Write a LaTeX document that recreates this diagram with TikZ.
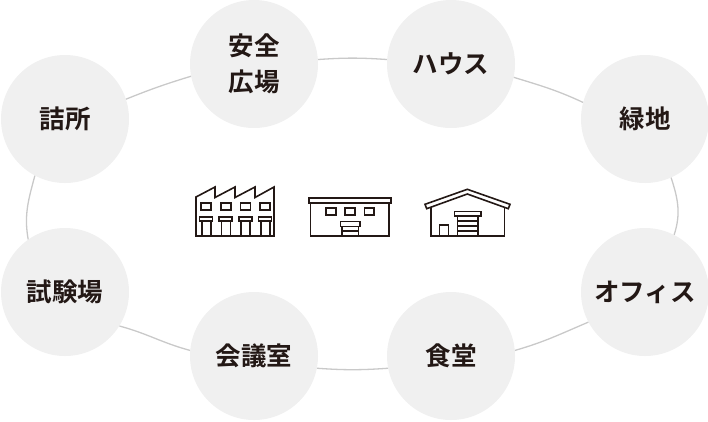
\documentclass[tikz,border=0pt]{standalone}
\usepackage{fontspec}
\setmainfont{Noto Sans CJK JP Bold}
\definecolor{spotfill}{HTML}{F0F0F0}
\definecolor{ringline}{HTML}{C9C9C9}
\definecolor{iconline}{HTML}{231815}
\newcommand{\dropped}[1]{\raisebox{-3pt}{#1}}
\tikzset{
	spot/.style={circle,fill=spotfill,minimum size=128pt,inner sep=0pt,align=center,text=iconline,font=\fontsize{25.5}{36}\selectfont},
	ring/.style={draw=ringline,line width=1.3pt},
	icon/.style={draw=iconline,line width=1.6pt,line join=miter}
}
\begin{document}
\begin{tikzpicture}[x=1pt,y=-1pt]
	\useasboundingbox (0,0) rectangle (708,421);
	% circles
	\node[spot] (tsumesho) at (65,119) {\dropped{詰所}};
	\node[spot] (hiroba) at (254,64) {安全\\広場};
	\node[spot] (house) at (451,64) {ハウス};
	\node[spot] (ryokuchi) at (645,119) {\dropped{緑地}};
	\node[spot] (office) at (645,292) {\dropped{オフィス}};
	\node[spot] (shokudo) at (451,356) {食堂};
	\node[spot] (kaigi) at (254,356) {会議室};
	\node[spot] (shiken) at (65,292) {\dropped{試験場}};
	% ring
	\draw[ring] (tsumesho.18) to[out=22,in=197] (hiroba.191);
	\draw[ring] (hiroba.4) to[out=4,in=176] (house.176);
	\draw[ring] (house.-12) to[out=-17,in=155] (ryokuchi.165);
	\draw[ring] (ryokuchi.-66) to[out=-72,in=72] (office.63);
	\draw[ring] (office.208) to[out=203,in=16] (shokudo.5);
	\draw[ring] (shokudo.191) to[out=184,in=-4] (kaigi.-11);
	\draw[ring] (kaigi.175) to[out=165,in=-15] (shiken.-32);
	\draw[ring] (shiken.125) to[out=100,in=-105] (tsumesho.-118);
	% factory
	\draw[icon] (196,236) -- (196,197) -- (215,187) -- (215,197.5) -- (235,187) -- (235,197.5) -- (255,187) -- (255,197.5) -- (274,187) -- (274,236) -- cycle;
	\foreach \x in {0,1,2,3}{
		\draw[icon] (201+19.7*\x,203) rectangle (211+19.7*\x,210);
		\draw[icon] (199.3+19.7*\x,216.7) rectangle (212.3+19.7*\x,221);
		\draw[icon] (201.7+19.7*\x,221) -- (201.7+19.7*\x,236);
		\draw[icon] (210.7+19.7*\x,221) -- (210.7+19.7*\x,236);
	}
	% office
	\draw[icon] (309,198) rectangle (390.7,203);
	\draw[icon] (310.5,203) -- (310.5,235.7) -- (389,235.7) -- (389,203);
	\foreach \x in {326,345,364.3}\draw[icon] (\x,208) rectangle (\x+9.7,215);
	\draw[icon] (340.3,221.3) rectangle (360,226.3);
	\draw[icon] (342,226.3) -- (342,235.7);
	\draw[icon] (358.3,226.3) -- (358.3,235.7);
	\draw[icon] (342,230.7) -- (358.3,230.7);
	% warehouse
	\draw[icon] (425,204.3) -- (467.3,189.3) -- (510,204.3) -- (508.3,208.7) -- (467.3,194) -- (426.7,208.7) -- cycle;
	\draw[icon] (430.7,207) -- (430.7,235.7) -- (504.3,235.7) -- (504.3,207);
	\draw[icon] (454.3,211.3) rectangle (481,215.7);
	\draw[icon] (457.3,215.7) -- (457.3,235.7);
	\draw[icon] (477.7,215.7) -- (477.7,235.7);
	\foreach \y in {221,226,230.7}\draw[icon] (457.3,\y) -- (477.7,\y);
	\draw[icon] (439.3,235.7) -- (439.3,225) -- (448.3,225) -- (448.3,235.7);
\end{tikzpicture}
\end{document}
